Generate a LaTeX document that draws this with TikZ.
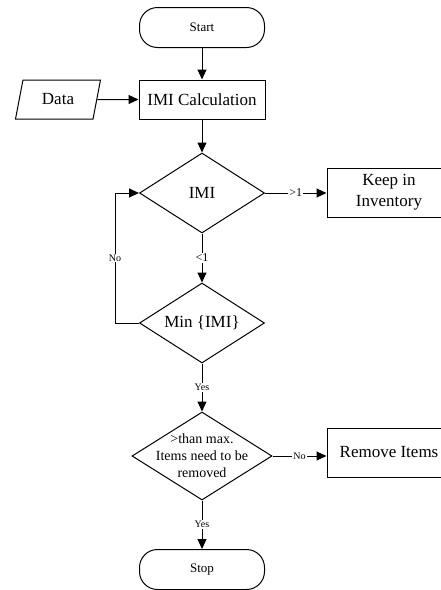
\documentclass[tikz,border=0pt]{standalone}
\usepackage{fontspec}
\setmainfont{Liberation Serif}
\usetikzlibrary{arrows.meta,shapes.geometric}

\begin{document}
\begin{tikzpicture}[x=1pt, y=-1pt,
    every node/.style={font=\fontsize{17}{21}\selectfont},
    terminal/.style={draw, line width=1pt, rounded corners=18pt, minimum width=125pt, minimum height=40pt, font=\fontsize{13}{15}\selectfont},
    process/.style={draw, line width=1pt, minimum width=126pt, minimum height=39pt},
    outbox/.style={draw, line width=1pt, minimum width=124pt, minimum height=49pt, align=center},
    data/.style={draw, trapezium, trapezium left angle=64, trapezium right angle=116, trapezium stretches body=true, line width=1pt, inner xsep=2pt, inner ysep=2pt, minimum height=39pt, minimum width=85pt},
    decision/.style={draw, diamond, line width=1pt, inner sep=0pt, aspect=1.56, minimum width=125pt, minimum height=80pt},
    arrow/.style={line width=1pt, -{Triangle[length=10pt, width=9pt]}},
    lbl/.style={fill=white, inner sep=1pt, font=\fontsize{10}{12}\selectfont},
    cmp/.style={lbl, font=\fontsize{12}{14}\selectfont}]
    \useasboundingbox (0,0) rectangle (441,590);
    \clip (0,0) rectangle (441,590);

    % Main column
    \node[terminal] (start) at (202,27.5) {Start};
    \node[process] (calc) at (202,99.5) {IMI Calculation};
    \node[data] (data) at (58,99.5) {Data};
    \node[decision] (imi) at (202,193) {IMI};
    \node[decision] (minimi) at (202,323) {Min \{IMI\}};
    \node[decision, minimum width=140pt, minimum height=88pt,
        label={[font=\fontsize{14}{17}\selectfont, align=center]center:{>than max.\\Items need to be\\removed}}] (maxcheck) at (202,456) {};
    \node[terminal] (stop) at (202,569.5) {Stop};

    % Outcomes on the right
    \node[outbox] (keep) at (389,192.5) {Keep in\\Inventory};
    \node[outbox] (remove) at (389,452.5) {Remove Items};

    % Connectors
    \draw[arrow] (start) -- (calc);
    \draw[arrow] (data) -- (calc);
    \draw[arrow] (calc) -- (imi);
    \draw[arrow] (imi.east) -- node[cmp] {>1} (imi.east -| keep.west);
    \draw[arrow] (imi) -- node[cmp] {<1} (minimi);
    \draw[arrow] (minimi.west) -- ++(-24,0) coordinate (back) |- node[lbl, pos=0.25] {No} (imi.west);
    \draw[arrow] (minimi) -- node[lbl] {Yes} (maxcheck);
    \draw[arrow] (maxcheck.east) -- node[lbl] {No} (maxcheck.east -| remove.west);
    \draw[arrow] (maxcheck) -- node[lbl] {Yes} (stop);
\end{tikzpicture}
\end{document}
